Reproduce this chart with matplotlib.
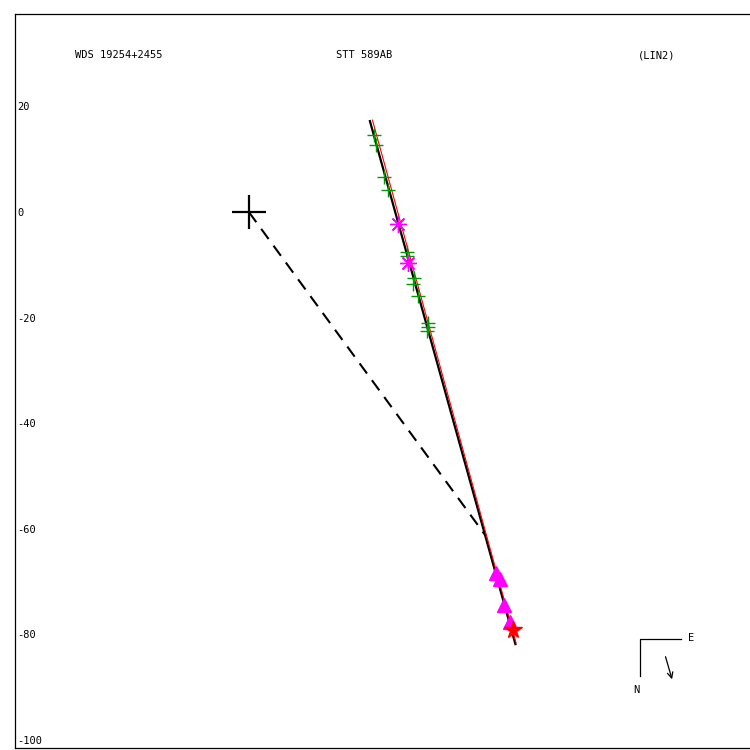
import matplotlib
matplotlib.use("Agg")
import matplotlib.pyplot as plt

# ===== data (arcsec offsets) =====
# micrometric / visual measures (green +)
green_x = [23.67, 24.05, 25.57, 26.33, 29.92, 29.92, 31.25, 31.06, 32.01, 33.90, 33.90, 33.71]
green_y = [14.58, 12.69, 6.63, 4.17, -7.58, -8.33, -12.50, -13.64, -15.91, -21.02, -21.78, -22.54]

# photographic measures (magenta asterisks)
ast_x = [28.22, 30.11]
ast_y = [-2.27, -9.66]

# recent measures (magenta triangles)
tri_x = [46.78, 47.63, 48.30, 49.53]
tri_y = [-68.37, -69.51, -74.43, -77.65]

# last measure (red star)
star_x = [50.0]
star_y = [-79.17]

# linear fit (black) and alternative fit (red)
fit_x = [22.92, 50.47]
fit_y = [17.23, -81.82]
alt_x = [23.40, 50.60]
alt_y = [17.42, -81.63]

# closest approach line from primary
ca_x = [0.0, 44.89]
ca_y = [0.0, -61.36]

Y_TICKS = [20, 0, -20, -40, -60, -80, -100]

MONO = "DejaVu Sans Mono"

fig = plt.figure(figsize=(7.5, 7.5), dpi=100)
ax = fig.add_axes([15 / 750, 2 / 750, 735 / 750, 734 / 750])

ax.set_xlim(-44.3, -44.3 + 735 / 5.28)
ax.set_ylim(-101.5, -101.5 + 734 / 5.28)

ax.plot(ca_x, ca_y, color="black", linewidth=1.5, linestyle=(0, (6, 4)))
ax.plot(fit_x, fit_y, color="black", linewidth=1.6)
ax.plot(alt_x, alt_y, color="red", linewidth=0.8)

ax.plot(green_x, green_y, linestyle="none", marker="+", markersize=10,
        markeredgewidth=1.0, color="#009900")
ax.plot(ast_x, ast_y, linestyle="none", marker=(8, 2, 0), markersize=12,
        markeredgewidth=1.0, color="#ff00ff")
ax.plot(tri_x, tri_y, linestyle="none", marker="^", markersize=10,
        color="#ff00ff")
ax.plot(star_x, star_y, linestyle="none", marker="*", markersize=13,
        color="red")

# primary star
ax.plot([0], [0], linestyle="none", marker="+", markersize=25,
        markeredgewidth=1.6, color="black")

# axes: only y labels, drawn inside the frame
ax.set_xticks([])
ax.set_yticks(Y_TICKS)
ax.set_yticklabels([str(t) for t in Y_TICKS], fontsize=7.5, family=MONO)
ax.tick_params(axis="y", length=0, pad=-1.5)
for lab in ax.get_yticklabels():
    lab.set_horizontalalignment("left")
ax.spines["right"].set_visible(False)
for sp in ["left", "top", "bottom"]:
    ax.spines[sp].set_linewidth(0.9)

# header texts
ax.text((75 - 15) / 735, (748 - 55) / 734, "WDS 19254+2455", transform=ax.transAxes,
        fontsize=7.5, family=MONO, va="center", ha="left")
ax.text((336 - 15) / 735, (748 - 55) / 734, "STT 589AB", transform=ax.transAxes,
        fontsize=7.5, family=MONO, va="center", ha="left")
ax.text((638 - 15) / 735, (748 - 55) / 734, "(LIN2)", transform=ax.transAxes,
        fontsize=7.5, family=MONO, va="center", ha="left")

# compass
ax.plot([0.906, 0.850, 0.850], [0.1485, 0.1485, 0.098], transform=ax.transAxes,
        color="black", linewidth=0.9)
ax.text(0.916, 0.150, "E", transform=ax.transAxes, fontsize=7.5, family=MONO,
        va="center", ha="left")
ax.text(0.846, 0.079, "N", transform=ax.transAxes, fontsize=7.5, family=MONO,
        va="center", ha="center")
ax.annotate("", xy=(0.895, 0.090), xytext=(0.884, 0.128), xycoords="axes fraction",
            arrowprops=dict(arrowstyle="->", color="black", linewidth=0.9))

fig.savefig("out.png", dpi=100)
